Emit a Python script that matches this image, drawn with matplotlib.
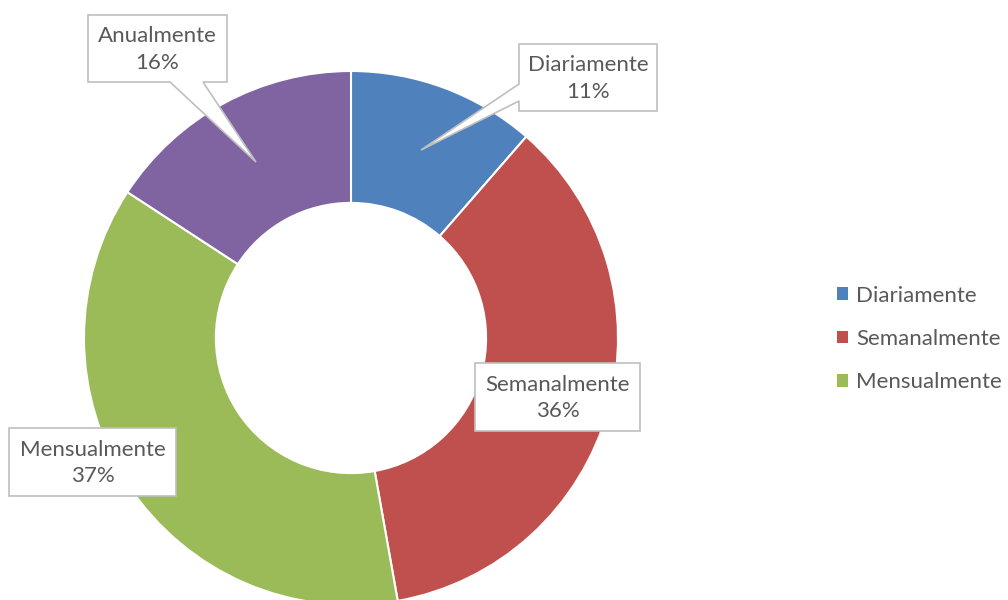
import numpy as np
import matplotlib
matplotlib.use('Agg')
import matplotlib.pyplot as plt
from matplotlib.patches import Polygon

# data
categorias = ['Diariamente', 'Semanalmente', 'Mensualmente', 'Anualmente']
porcentajes = [11.4, 35.8, 37.0, 15.8]
colores = ['#4F81BD', '#C0504D', '#9BBB59', '#8064A2']

plt.rcParams['font.family'] = ['Lato', 'DejaVu Sans']
gris_txt = '#595959'
gris_borde = '#BFBFBF'

fig = plt.figure(figsize=(10.08, 6.0), dpi=100)
ax = fig.add_axes([0, 0, 1, 1])

# donut (axes in pixel units, y pointing down)
cx, cy, R = 351, 338, 267
wedges, _ = ax.pie(porcentajes, colors=colores, startangle=270, counterclock=True,
                   center=(cx, cy), radius=R,
                   wedgeprops=dict(width=R * 0.494, edgecolor='white', linewidth=1.5))
ax.set_xlim(0, 1008)
ax.set_ylim(600, 0)
ax.set_aspect('equal')
ax.axis('off')

# callouts: box corners + pointer
callouts = {
    'Diariamente': [(519, 44), (657, 44), (657, 111), (519, 111), (519, 101), (421, 150), (519, 84)],
    'Anualmente': [(88, 15), (227, 15), (227, 82), (203, 82), (256, 162), (170, 82), (88, 82)],
    'Semanalmente': [(475, 363), (640, 363), (640, 431), (475, 431)],
    'Mensualmente': [(9, 428), (176, 428), (176, 496), (9, 496)],
}
for nombre, pct in zip(categorias, porcentajes):
    pts = callouts[nombre]
    ax.add_patch(Polygon(pts, closed=True, facecolor='white', edgecolor=gris_borde,
                         linewidth=1.2, zorder=5))
    xs = [p[0] for p in pts[:2]]
    ys = [pts[0][1], pts[2][1]]
    ax.text(np.mean(xs), np.mean(ys) + 1, f'{nombre}\n{pct:.0f}%', ha='center', va='center',
            fontsize=16, color=gris_txt, linespacing=1.4, zorder=6)

# legend (only three entries visible)
leg = ax.legend(wedges[:3], categorias[:3], loc='center left', bbox_to_anchor=(817 / 1008, 1 - 339 / 600),
                frameon=False, fontsize=16, labelcolor=gris_txt, handlelength=0.5, handleheight=0.5,
                handletextpad=0.35, labelspacing=1.05)
for h in leg.legend_handles:
    h.set_edgecolor('none')

fig.savefig('out.png', dpi=100)
